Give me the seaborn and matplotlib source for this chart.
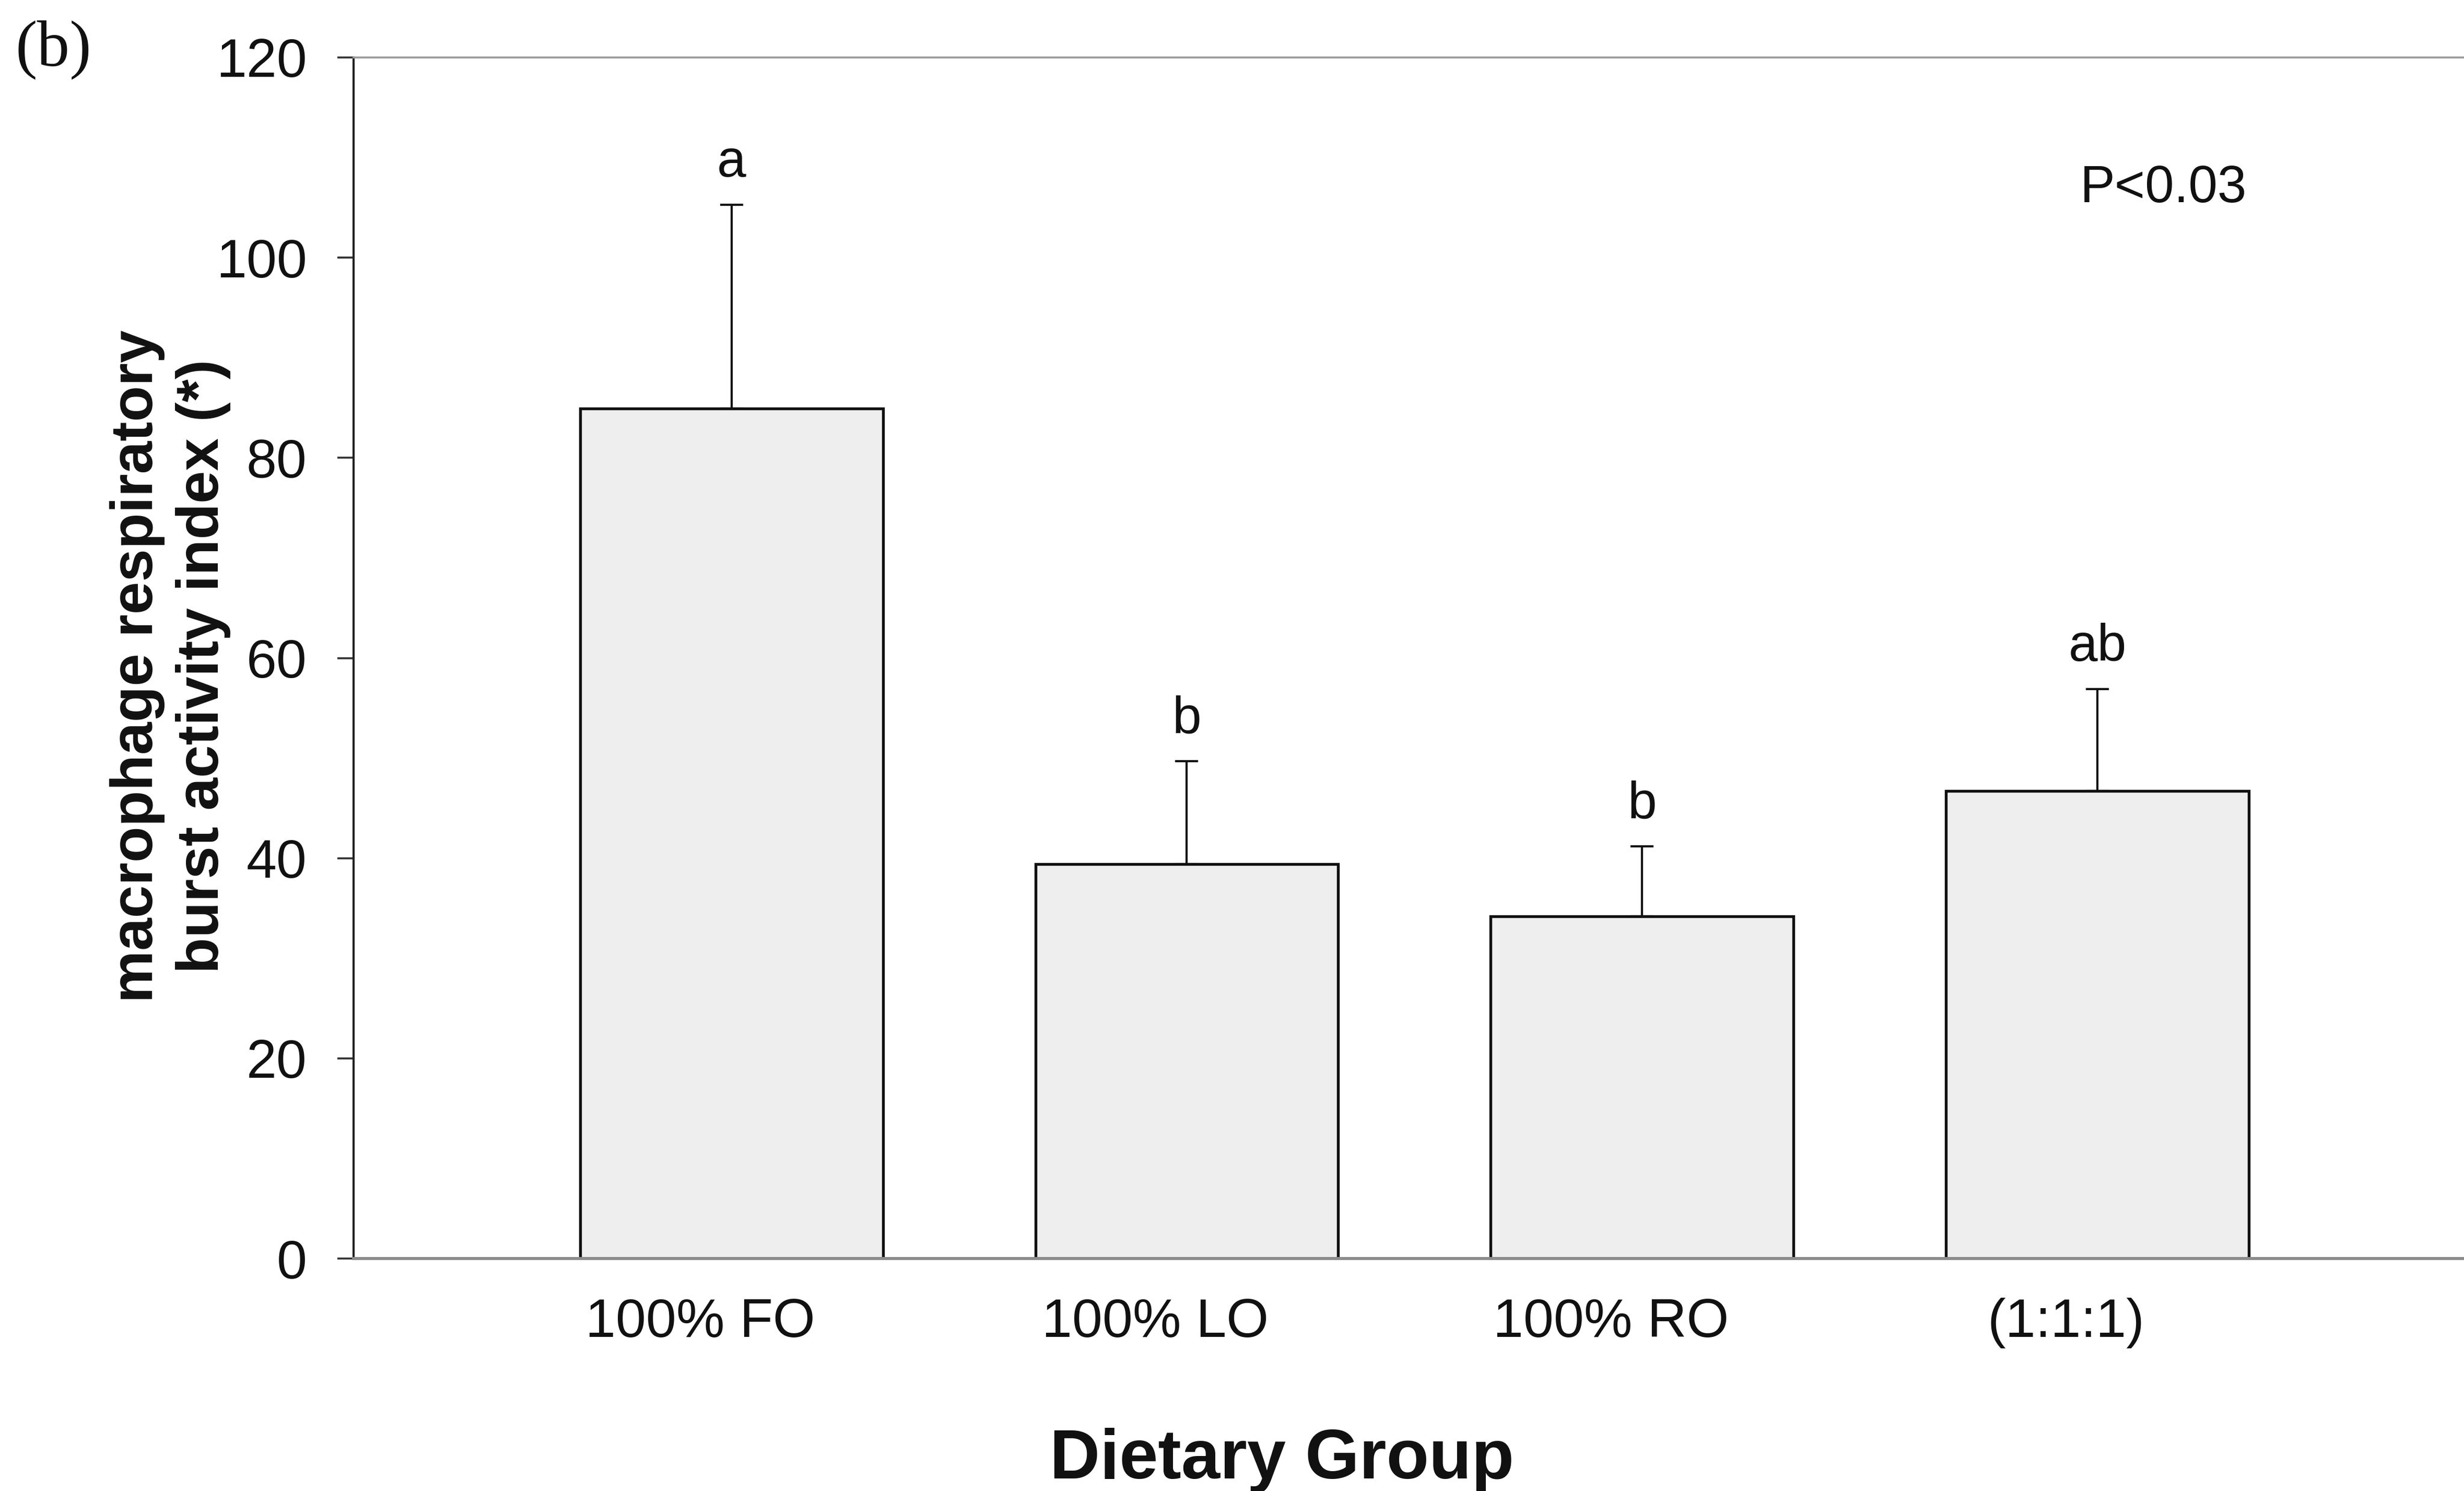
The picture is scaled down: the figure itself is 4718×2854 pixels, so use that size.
import matplotlib
matplotlib.use("Agg")
import matplotlib.pyplot as plt
import matplotlib.transforms as mtransforms
import numpy as np
import pandas as pd
import seaborn as sns

# Respiratory burst activity per dietary group (mean and upper error)
groups = ["100% FO", "100% LO", "100% RO", "(1:1:1)"]
means = [84.9, 39.4, 34.2, 46.7]
errors = [20.4, 10.3, 7.0, 10.2]
letters = ["a", "b", "b", "ab"]
y_ticks = [0, 20, 40, 60, 80, 100, 120]

sns.set_theme(style="white")
plt.rcParams["font.family"] = ["Liberation Sans", "DejaVu Sans"]

W, H, DPI = 4718, 2854, 300
fig = plt.figure(figsize=(W / DPI, H / DPI), dpi=DPI, facecolor="white")
ax = fig.add_axes([677 / W, 1 - 2409 / H, 1 - 677 / W, (2409 - 110) / H])
ax.set_facecolor("white")

df = pd.DataFrame({"group": groups, "value": means})
sns.barplot(data=df, x="group", y="value", order=groups, color="#eeeeee",
            saturation=1, width=0.665, edgecolor="#111111", linewidth=1.3,
            errorbar=None, ax=ax, zorder=2)

x = np.arange(len(groups))
ax.errorbar(x, means, yerr=[np.zeros(len(means)), errors], fmt="none",
            ecolor="#111111", elinewidth=1.0, capsize=5.3, capthick=1.0, zorder=3)

for xi, m, e, lab in zip(x, means, errors, letters):
    ax.text(xi, m + e + 2.8, lab, ha="center", va="baseline", fontsize=24, color="#111111")

ax.text(0.8575, 0.891, "P<0.03", transform=ax.transAxes, ha="center", va="center",
        fontsize=24, color="#111111")

ax.set_xlim(-0.83, 3.805)
ax.set_ylim(0, 120)
ax.set_yticks(y_ticks)
ax.set_yticklabels([str(t) for t in y_ticks])

ax.tick_params(axis="y", left=True, direction="out", length=7.4, width=0.9,
               color="#333333", pad=14, labelsize=25, labelcolor="#111111")
ax.tick_params(axis="x", bottom=False, length=0, pad=18, labelsize=25, labelcolor="#111111")

shift = mtransforms.ScaledTranslation(-0.2, 0, fig.dpi_scale_trans)
for lbl in ax.get_xticklabels():
    lbl.set_transform(lbl.get_transform() + shift)

for side in ["left", "top", "bottom", "right"]:
    ax.spines[side].set_visible(True)
ax.spines["right"].set_visible(False)
ax.spines["left"].set_color("#222222")
ax.spines["left"].set_linewidth(1.0)
ax.spines["top"].set_color("#9a9a9a")
ax.spines["top"].set_linewidth(0.9)
ax.spines["bottom"].set_color("#8c8c8c")
ax.spines["bottom"].set_linewidth(1.4)

ax.set_xlabel("Dietary Group", fontsize=32, fontweight="bold", color="#111111")
ax.xaxis.set_label_coords(0.44, -0.1831)
ax.xaxis.label.set_va("baseline")

ax.set_ylabel("macrophage respiratory\nburst activity index (*)", fontsize=27,
              fontweight="bold", color="#111111", linespacing=1.25)
ylab = ax.yaxis.label
ylab.set_rotation_mode("default")
ylab.set_ha("center")
ylab.set_va("center")
ylab.set_multialignment("center")
ax.yaxis.set_label_coords(-0.0869, 0.493)

fig.text(0.0217, 0.9667, "(b)", ha="center", va="center", fontsize=30,
         family=["Liberation Serif", "DejaVu Serif"], color="#111111")

fig.savefig("out.png", dpi=DPI, facecolor="white")
